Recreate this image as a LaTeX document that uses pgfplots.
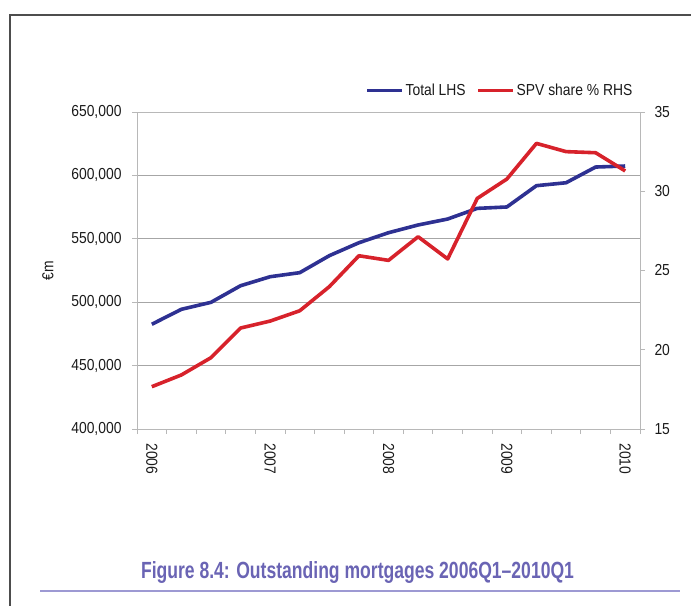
\documentclass[border=0pt]{standalone}
\usepackage{fontspec}
\setmainfont{Liberation Sans}[FakeStretch=0.87]
\newfontfamily\titlefont[FakeStretch=0.75]{Liberation Sans}
\usepackage{pgfplots}
\pgfplotsset{compat=1.18}

\definecolor{totblue}{HTML}{2E3192}
\definecolor{spvred}{HTML}{D7222B}
\definecolor{gridgray}{HTML}{A6A6A6}
\definecolor{axisgray}{HTML}{B8B8B8}
\definecolor{titlepurple}{HTML}{6A64B4}
\definecolor{rulepurple}{HTML}{9D99D3}
\definecolor{framegray}{HTML}{4D4D4D}
\definecolor{labgray}{HTML}{1A1A1A}

\pgfplotsset{
  mortbase/.style={
    scale only axis, width=503bp, height=317bp,
    at={(137bp,-429bp)}, anchor=south west,
    xmin=-0.5, xmax=16.5,
    tick align=outside,
    major tick length=5bp,
    axis line style={axisgray, line width=1bp},
    every tick/.style={axisgray, line width=0.8bp},
    ticklabel style={font=\fontsize{16}{18}\selectfont, text=labgray},
  },
}

\begin{document}
\begin{tikzpicture}[x=1bp,y=1bp]
\path[use as bounding box] (0,0) rectangle (691,-606);
\draw[framegray, line width=1.3bp] (10,-606) -- (10,-15) -- (691,-15);

% left axis: total outstanding mortgages
\begin{axis}[mortbase,
    ymin=400000, ymax=650000,
    ytick={400000,450000,500000,550000,600000,650000},
    yticklabels={{400,000},{450,000},{500,000},{550,000},{600,000},{650,000}},
    scaled y ticks=false,
    ytick pos=left,
    ymajorgrids, grid style={gridgray, line width=1bp},
    xtick={0,4,8,12,16},
    xticklabels={2006,2007,2008,2009,2010},
    major x tick style={draw=none},
    minor xtick={-0.5,0.5,...,16.5},
    minor tick length=5bp,
    minor x tick style={axisgray, line width=0.8bp},
    xtick pos=left,
    xticklabel style={rotate=-90, anchor=west, xshift=6bp},
    yticklabel style={xshift=-7bp},
    ylabel={€m},
    ylabel style={font=\fontsize{16}{18}\selectfont, text=labgray,
      at={(axis description cs:-0.177,0.5)}, anchor=center},
  ]
  \addplot[totblue, line width=3.6bp, line join=round] coordinates {
    (0,482600) (1,494400) (2,499900) (3,513000) (4,520100) (5,523300)
    (6,536700) (7,546900) (8,554800) (9,560900) (10,565600) (11,574000)
    (12,575100) (13,591900) (14,594200) (15,606600) (16,607400)
  };
\end{axis}

% right axis: SPV share
\begin{axis}[mortbase,
    ymin=15, ymax=35,
    ytick={15,20,25,30,35},
    yticklabels={15,20,25,30,35},
    axis y line*=right,
    axis x line=none,
    yticklabel style={xshift=6bp},
    legend style={draw=none, fill=none, at={(rel axis cs:0.995,1.069)}, anchor=east,
      font=\fontsize{16}{18}\selectfont, text=labgray,
      /tikz/every even column/.append style={column sep=9bp}},
    legend columns=2,
    legend image code/.code={\draw[#1] (0bp,0bp) -- (35bp,0bp);},
  ]
  \addlegendimage{totblue, line width=3bp}
  \addlegendentry{Total LHS}
  \addplot[spvred, line width=3.6bp, line join=round,
    forget plot] coordinates {
    (0,17.67) (1,18.41) (2,19.50) (3,21.37) (4,21.81) (5,22.46)
    (6,23.98) (7,25.93) (8,25.64) (9,27.13) (10,25.73) (11,29.55)
    (12,30.77) (13,33.02) (14,32.50) (15,32.43) (16,31.28)
  };
  \addlegendimage{spvred, line width=3bp}
  \addlegendentry{SPV share \% RHS}
\end{axis}

\node[font=\titlefont\bfseries\fontsize{23.5}{26}\selectfont, text=titlepurple, anchor=base] at (357.5,-578)
  {Figure 8.4: Outstanding mortgages 2006Q1–2010Q1};
\draw[rulepurple, line width=1.3bp] (40,-591) -- (680,-591);
\end{tikzpicture}
\end{document}
